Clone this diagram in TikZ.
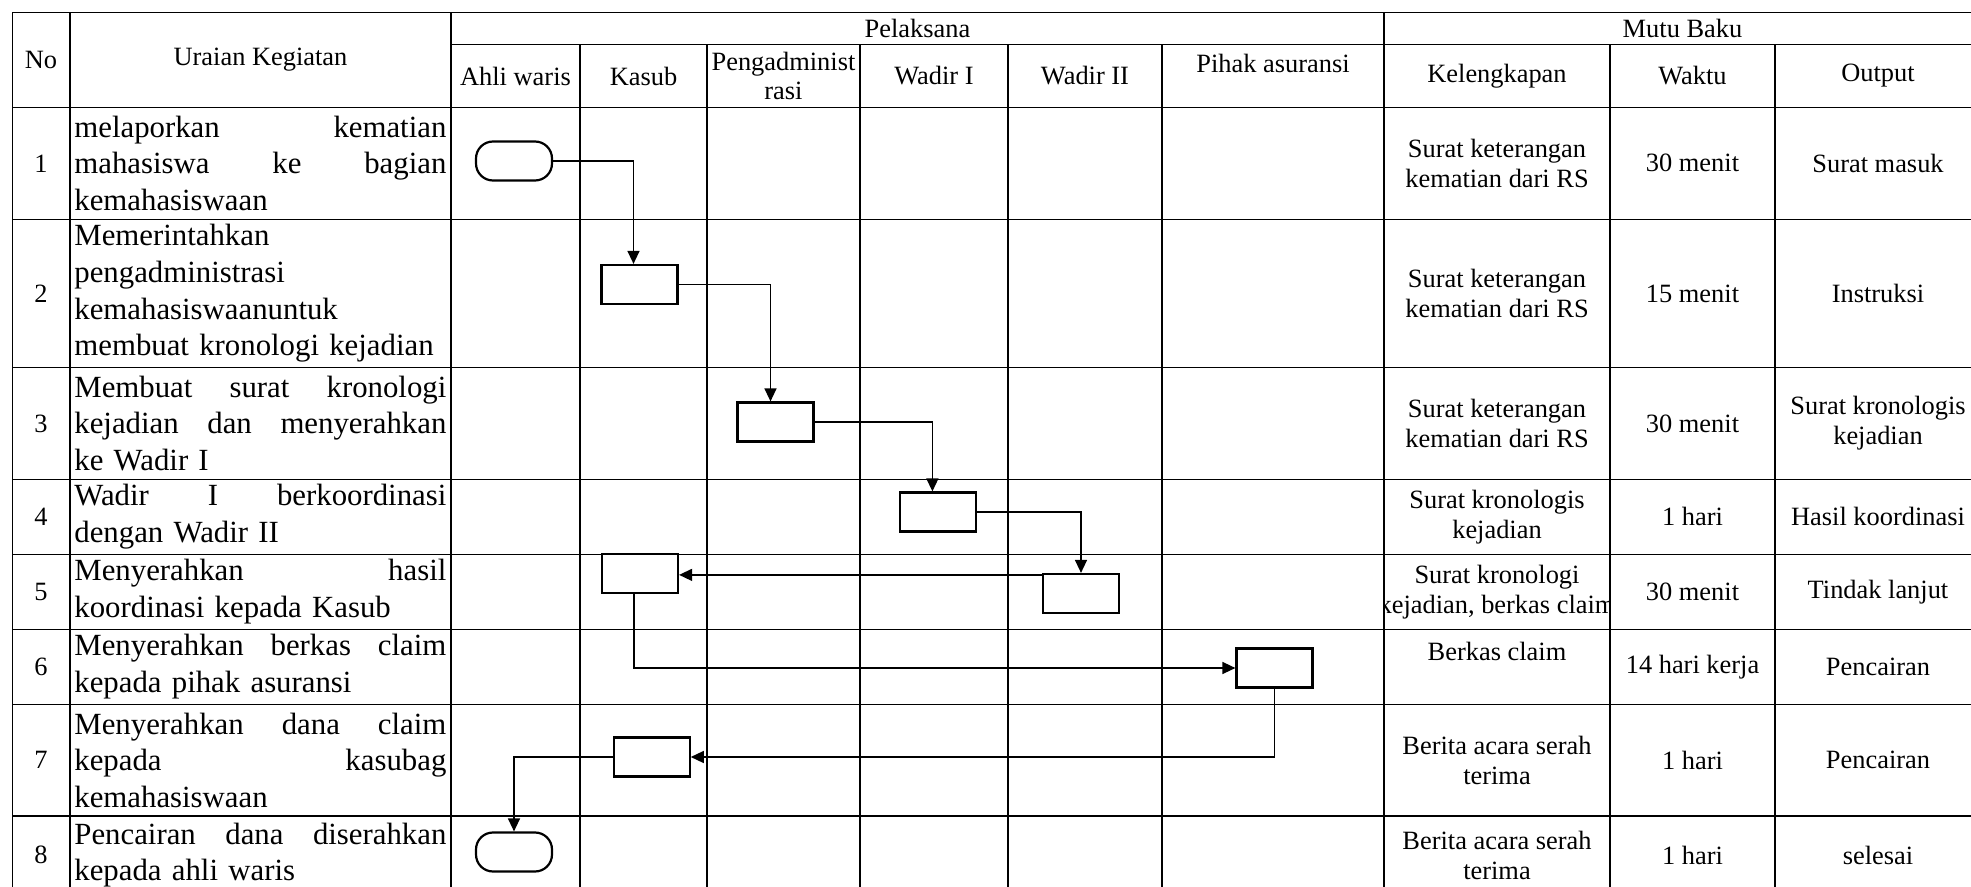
\documentclass[tikz,border=0pt]{standalone}
\usepackage{fontspec}
\setmainfont{Liberation Serif}
\usetikzlibrary{arrows.meta,calc}
\newcommand\jl[1]{\leavevmode\hbox to 186pt{#1}}
\newcommand\lline[1]{\leavevmode\hbox{#1}}
\tikzset{
 grid/.style={line width=0.6pt},
 proc/.style={draw, line width=1.1pt, minimum width=38pt, minimum height=19.5pt, inner sep=0pt},
 term/.style={proc, rounded corners=8.5pt},
 conn/.style={line width=0.7pt, -{Triangle[length=6.5pt,width=6pt]}},
 big/.style={font=\fontsize{15.4}{18.3}\selectfont, text width=186pt, align=left, inner sep=0pt, anchor=west},
 sm/.style={font=\fontsize{13.2}{15}\selectfont, align=center, inner sep=0pt},
}
\begin{document}
\begin{tikzpicture}[x=0.5pt,y=-0.5pt]
\useasboundingbox (0,0) rectangle (1971,887);
\begin{scope}
\clip (0,0) rectangle (1971,887);
\draw[grid] (12.5,12.3) -- (1981,12.3);
\draw[grid] (451,44.3) -- (1981,44.3);
\foreach \y in {107.3,219.3,367.7,479.3,554.3,629.3,704.3,816,894} \draw[grid] (12.5,\y) -- (1981,\y);
\foreach \x in {12.5,70,451,1384} \draw[grid] (\x,12.3) -- (\x,894);
\foreach \x in {580,707,860,1008,1162,1610,1775} \draw[grid] (\x,44.3) -- (\x,894);
\end{scope}
% headers
\node[sm] (hno) at (41,60) {No};
\node[sm] (hur) at (260.5,60) {Uraian Kegiatan};
\node[sm] (hpel) at (917.5,28.5) {Pelaksana};
\node[sm] (hmb) at (1682.5,28.5) {Mutu Baku};
\node[sm] (hah) at (515.5,76) {Ahli waris};
\node[sm] (hks) at (643.5,76) {Kasub};
\node[sm,font=\fontsize{13.2}{14.2}\selectfont] (hpg) at (783.5,76) {Pengadminist\\rasi};
\node[sm] (hw1) at (934,76) {Wadir I};
\node[sm] (hw2) at (1085,76) {Wadir II};
\node[sm] (hpa) at (1273,63) {Pihak asuransi};
\node[sm] (hkl) at (1497,76) {Kelengkapan};
\node[sm] (hwk) at (1692.5,76) {Waktu};
\node[sm] (hop) at (1878,76) {Output};
% numbers
\foreach \n/\y in {1/163.3,2/293.5,3/423.5,4/516.8,5/591.8,6/666.8,7/760.2,8/855}
  \node[sm] (no\n) at (41,\y) {\n};
% activities
\node[big] (u1) at (74,163.3) {\jl{melaporkan\hfill kematian}\\\jl{mahasiswa\hfill ke\hfill bagian}\\\lline{kemahasiswaan}};
\node[big] (u2) at (74,293.5) {\lline{Memerintahkan}\\\lline{pengadministrasi}\\\lline{kemahasiswaanuntuk}\\\lline{membuat kronologi kejadian}};
\node[big] (u3) at (74,423.5) {\jl{Membuat\hfill surat\hfill kronologi}\\\jl{kejadian\hfill dan\hfill menyerahkan}\\\lline{ke Wadir I}};
\node[big] (u4) at (74,516.8) {\jl{Wadir\hfill I\hfill berkoordinasi}\\\lline{dengan Wadir II}};
\node[big] (u5) at (74,591.8) {\jl{Menyerahkan\hfill hasil}\\\lline{koordinasi kepada Kasub}};
\node[big] (u6) at (74,666.8) {\jl{Menyerahkan\hfill berkas\hfill claim}\\\lline{kepada pihak asuransi}};
\node[big] (u7) at (74,760.2) {\jl{Menyerahkan\hfill dana\hfill claim}\\\jl{kepada\hfill kasubag}\\\lline{kemahasiswaan}};
\node[big] (u8) at (74,855) {\jl{Pencairan\hfill dana\hfill diserahkan}\\\lline{kepada ahli waris}};
% Kelengkapan
\node[sm] (kl1) at (1497,163.3) {Surat keterangan\\kematian dari RS};
\node[sm] (kl2) at (1497,293.5) {Surat keterangan\\kematian dari RS};
\node[sm] (kl3) at (1497,423.5) {Surat keterangan\\kematian dari RS};
\node[sm] (kl4) at (1497,516.8) {Surat kronologis\\kejadian};
\begin{scope}
\clip (1384,554.3) rectangle (1610,629.3);
\node[sm] (kl5) at (1497,591.8) {Surat kronologi\\kejadian, berkas claim};
\end{scope}
\node[sm] (kl6) at (1497,651.7) {Berkas claim};
\node[sm] (kl7) at (1497,760.2) {Berita acara serah\\terima};
\node[sm] (kl8) at (1497,855) {Berita acara serah\\terima};
% Waktu
\node[sm] (wk1) at (1692.5,163.3) {30 menit};
\node[sm] (wk2) at (1692.5,293.5) {15 menit};
\node[sm] (wk3) at (1692.5,423.5) {30 menit};
\node[sm] (wk4) at (1692.5,516.8) {1 hari};
\node[sm] (wk5) at (1692.5,591.8) {30 menit};
\node[sm] (wk6) at (1692.5,666.8) {14 hari kerja};
\node[sm] (wk7) at (1692.5,760.2) {1 hari};
\node[sm] (wk8) at (1692.5,855) {1 hari};
% Output
\node[sm] (op1) at (1878,163.3) {Surat masuk};
\node[sm] (op2) at (1878,293.5) {Instruksi};
\node[sm] (op3) at (1878,423.5) {Surat kronologis\\kejadian};
\node[sm] (op4) at (1878,516.8) {Hasil koordinasi};
\node[sm] (op5) at (1878,591.8) {Tindak lanjut};
\node[sm] (op6) at (1878,666.8) {Pencairan};
\node[sm] (op7) at (1878,760.2) {Pencairan};
\node[sm] (op8) at (1878,855) {selesai};
% flow shapes
\node[term] (t1) at (514,161) {};
\node[proc] (k2) at (639.5,284.5) {};
\node[proc] (p3) at (775.5,422) {};
\node[proc] (w4) at (938,512) {};
\node[proc] (v5) at (1081,593.5) {};
\node[proc] (k5) at (640,573.5) {};
\node[proc] (a6) at (1274.5,668) {};
\node[proc] (k7) at (651.7,757) {};
\node[term] (t8) at (514,852) {};
% connectors
\draw[conn] (t1.east) -| ([xshift=-3pt]k2.north);
\draw[conn] (k2.east) -| ([xshift=-2.5pt]p3.north);
\draw[conn] (p3.east) -| ([xshift=-2.8pt]w4.north);
\draw[conn] (w4.east) -| (v5.north);
\coordinate (s5) at ([yshift=-1pt]v5.north west);
\draw[conn] (s5) -- (s5 -| k5.east);
\draw[conn] ([xshift=-3pt]k5.south) |- (a6.west);
\draw[conn] (a6.south) |- (k7.east);
\draw[conn] (k7.west) -| (t8.north);
\end{tikzpicture}
\end{document}
